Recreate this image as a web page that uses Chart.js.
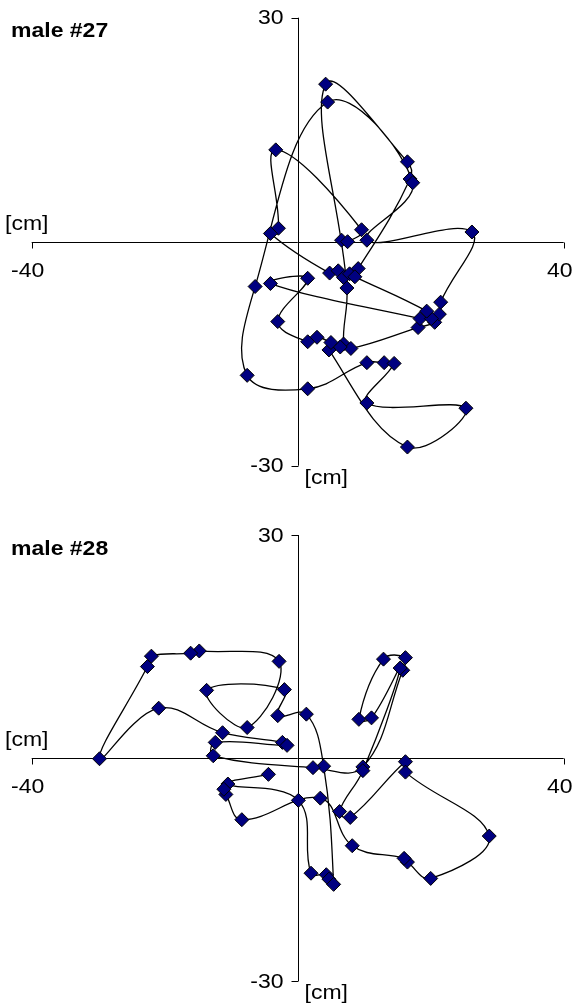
<!doctype html>
<html lang="en">
<head>
<meta charset="utf-8">
<title>male #27 / male #28</title>
<script src="https://cdn.jsdelivr.net/npm/chart.js"></script>
<style>
  * { margin: 0; padding: 0; }
  body { width: 573px; height: 1008px; background: #fff; position: relative; overflow: hidden; }
  canvas { position: absolute; left: 0; }
  #chart27 { top: 0; }
  #chart28 { top: 518px; }
</style>
</head>
<body>
<canvas id="chart27" width="573" height="500"></canvas>
<canvas id="chart28" width="573" height="490"></canvas>
<script>
// track of male #27, positions in cm (in recorded order)
const male27X = [6.6, 7.5, 9.6, -3.3, -2.9, -4.1, 4.8, 6.1, 6.9, 7.8, 9.1, 16.9, 16.5, 4.2, 7.4, 6.9, 8.0, 18.1, 20.6, 21.3, 21.5, 26.2, 10.4, 17.3, 4.5, -6.4, -7.6, 1.5, 10.4, 13.0, 14.5, 10.4, 25.3, 16.5, 4.7, 6.4, 5.0, 2.9, 1.5, -3.0, 1.5, -4.1, 18.4, 20.1, 19.4, 8.6];
const male27Y = [0.2, 0.0, 1.6, 12.3, 1.8, 1.1, -4.2, -3.9, -4.8, -4.3, -3.6, 8.4, 10.7, 21.1, -6.2, -13.7, -14.3, -11.5, -10.8, -9.7, -8.1, 1.3, 0.2, 7.9, 18.7, -6.0, -17.9, -19.7, -16.2, -16.2, -16.3, -21.6, -22.3, -27.5, -14.5, -14.1, -13.5, -12.8, -13.4, -10.7, -4.9, -5.6, -10.3, -10.3, -9.3, -4.7];

// track of male #28
const male28X = [-4.4, -10.5, 0.1, 2.0, 4.3, 4.7, 5.4, 3.9, 1.3, -3.0, -2.0, -13.7, -7.6, -2.8, -14.8, -16.1, -22.0, -22.6, -29.8, -20.9, -11.3, -2.3, -1.6, -12.4, -12.7, 2.3, 9.8, 15.8, 16.2, 12.9, 9.2, 11.1, 15.4, 9.8, 6.3, 7.9, 16.2, 16.2, 28.8, 20.0, 16.5, 16.0, 8.2, 3.4, -8.4, -10.8, -11.1];
const male28Y = [-2.2, -3.5, -5.7, -15.5, -15.7, -16.3, -17.0, -1.1, 5.9, 5.7, 9.2, 9.1, 4.1, 13.0, 14.4, 14.1, 13.7, 12.3, -0.1, 6.7, 3.4, 2.1, 1.7, 2.1, 0.3, -1.3, -1.2, 11.8, 13.5, 13.3, 5.2, 5.4, 12.1, -1.7, -7.2, -8.0, -0.5, -1.9, -10.5, -16.2, -14.0, -13.5, -11.8, -5.4, -8.3, -4.9, -4.2];

const xTicks = [-40, 40];
const yTicks = [-30, 30];
const unitLabel = '[cm]';

const SX = 1.15; // text in the picture is a bit wider than plain Arial
const FONT = '"Liberation Sans", Arial, sans-serif';

function stretchedText(ctx, text, x, y, align) {
  ctx.save();
  ctx.translate(x, y);
  ctx.scale(SX, 1);
  ctx.textAlign = align;
  ctx.fillText(text, 0, 0);
  ctx.restore();
}

// axes crossing at the origin, ticks only at the ends
const crossAxes = {
  id: 'crossAxes',
  beforeDatasetsDraw(chart, args, opts) {
    const { ctx, scales: { x, y } } = chart;
    const x0 = Math.round(x.getPixelForValue(0)) + 0.5;
    const y0 = Math.round(y.getPixelForValue(0)) + 0.5;
    const xl = x.getPixelForValue(xTicks[0]), xr = x.getPixelForValue(xTicks[1]);
    const yb = y.getPixelForValue(yTicks[0]), yt = y.getPixelForValue(yTicks[1]);
    ctx.save();
    ctx.strokeStyle = '#000';
    ctx.lineWidth = 1;
    ctx.beginPath();
    ctx.moveTo(xl, y0); ctx.lineTo(xr, y0);
    ctx.moveTo(x0, yt); ctx.lineTo(x0, yb);
    // tick marks
    xTicks.forEach(v => {
      const px = Math.round(x.getPixelForValue(v)) + 0.5;
      ctx.moveTo(px, y0); ctx.lineTo(px, y0 + 6);
    });
    yTicks.forEach(v => {
      const py = Math.round(y.getPixelForValue(v)) + 0.5;
      ctx.moveTo(x0, py); ctx.lineTo(x0 - 7, py);
    });
    ctx.stroke();

    ctx.fillStyle = '#000';
    ctx.font = '20px ' + FONT;
    ctx.textBaseline = 'alphabetic';
    xTicks.forEach(v => {
      stretchedText(ctx, String(v), x.getPixelForValue(v) - 4, y0 + 34, 'center');
    });
    ctx.textBaseline = 'middle';
    yTicks.forEach(v => {
      stretchedText(ctx, String(v), x0 - 15, y.getPixelForValue(v) + 1, 'right');
    });
    ctx.textBaseline = 'alphabetic';
    stretchedText(ctx, unitLabel, 5, y0 - 13, 'left');
    stretchedText(ctx, unitLabel, x0 + 6, yb + 18, 'left');

    ctx.font = 'bold 20px ' + FONT;
    stretchedText(ctx, opts.title, 11, yt + 19.5, 'left');
    ctx.restore();
  }
};

function makeChart(id, xs, ys, title, pad) {
  const points = xs.map((v, i) => ({ x: v, y: ys[i] }));
  return new Chart(document.getElementById(id), {
    type: 'scatter',
    data: {
      datasets: [{
        data: points,
        showLine: true,
        tension: 0.4,
        borderColor: '#000',
        borderWidth: 1.3,
        pointStyle: 'rectRot',
        pointRadius: 7,
        pointBackgroundColor: '#000080',
        pointBorderColor: '#000',
        pointBorderWidth: 1,
        clip: false
      }]
    },
    options: {
      responsive: false,
      animation: false,
      layout: { padding: pad },
      plugins: {
        legend: { display: false },
        tooltip: { enabled: false },
        crossAxes: { title: title }
      },
      scales: {
        x: { type: 'linear', min: xTicks[0], max: xTicks[1], display: false },
        y: { type: 'linear', min: yTicks[0], max: yTicks[1], display: false }
      }
    },
    plugins: [crossAxes]
  });
}

makeChart('chart27', male27X, male27Y, 'male #27', { left: 31.7, right: 9.3, top: 17.7, bottom: 34.3 });
makeChart('chart28', male28X, male28Y, 'male #28', { left: 31.7, right: 9.3, top: 17, bottom: 27 });
</script>
</body>
</html>
